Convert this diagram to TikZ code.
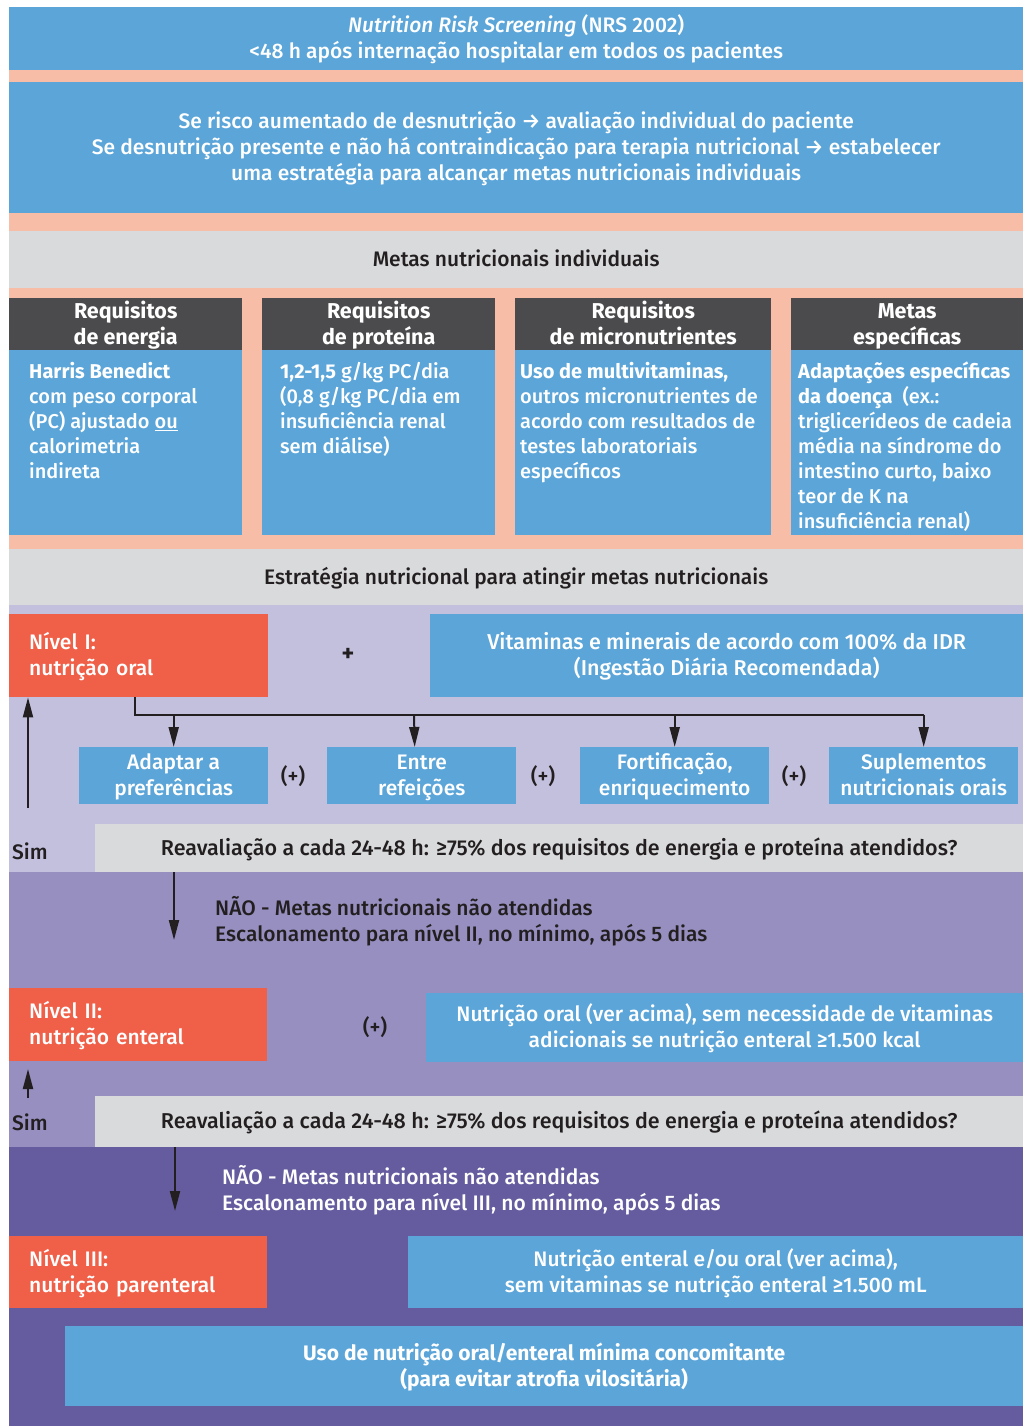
\documentclass[tikz,border=0pt]{standalone}
\usepackage{fontspec}
\setmainfont{Fira Sans}[UprightFont={* Medium}, ItalicFont={* Medium Italic}, BoldFont={* Bold}]
\usetikzlibrary{arrows.meta}
\definecolor{blueC}{HTML}{5BA5D9}
\definecolor{peachC}{HTML}{F8BDA7}
\definecolor{grayC}{HTML}{D9DADC}
\definecolor{darkC}{HTML}{4B4B4D}
\definecolor{redC}{HTML}{F05F48}
\definecolor{lavA}{HTML}{C3C0DE}
\definecolor{lavB}{HTML}{968FC0}
\definecolor{lavC}{HTML}{645C9E}
\definecolor{txtC}{HTML}{231F20}
\newcommand\ms{\rule[-5.5pt]{0pt}{25.5pt}}
\begin{document}
\begin{tikzpicture}[x=1pt,y=-1pt,
  fnt/.style={font=\fontsize{21}{26}\selectfont},
  box/.style={fill=#1, draw=none, inner sep=0pt, anchor=north west, align=center, text=white, fnt},
  lbox/.style={fill=#1, draw=none, inner xsep=20pt, inner ysep=0pt, anchor=north west, align=left, text=white, fnt},
  hbox/.style={fill=darkC, draw=none, inner sep=0pt, anchor=north west, align=center, text=white, font=\bfseries\fontsize{21.5}{25}\selectfont},
  body/.style={anchor=north west, inner sep=0pt, align=left, text=white, font=\fontsize{20}{25}\selectfont},
  dtxt/.style={text=txtC, inner sep=0pt, fnt},
  arr/.style={-{Triangle[length=20pt,width=10pt]}, line width=2pt, draw=txtC},
  ln/.style={line width=2pt, draw=txtC}]
\useasboundingbox (0,0) rectangle (1023,1426);
\fill[white] (0,0) rectangle (1023,1426);
% backgrounds
\fill[peachC] (9,70) rectangle (1023,549);
\fill[lavA] (9,605) rectangle (1023,872);
\fill[lavB] (9,872) rectangle (1023,1147);
\fill[lavC] (9,1147) rectangle (1023,1426);
% top
\node[box=blueC, minimum width=1014pt, minimum height=63pt] (nrs) at (9,7)
  {\ms\textit{Nutrition Risk Screening} (NRS 2002)\\ <48 h após internação hospitalar em todos os pacientes\ms};
\node[box=blueC, minimum width=1014pt, minimum height=131pt] (se) at (9,82)
  {\ms Se risco aumentado de desnutrição → avaliação individual do paciente\\
   Se desnutrição presente e não há contraindicação para terapia nutricional → estabelecer\\
   uma estratégia para alcançar metas nutricionais individuais\ms};
\node[box=grayC, text=txtC, minimum width=1014pt, minimum height=57pt] (metas) at (9,231)
  {\ms Metas nutricionais individuais};
% columns
\node[hbox, minimum width=233pt, minimum height=52pt] (h1) at (9,298) {\ms Requisitos\\ de energia\ms};
\node[hbox, minimum width=233pt, minimum height=52pt] (h2) at (262,298) {\ms Requisitos\\ de proteína\ms};
\node[hbox, minimum width=256pt, minimum height=52pt] (h3) at (515,298) {\ms Requisitos\\ de micronutrientes\ms};
\node[hbox, minimum width=232pt, minimum height=52pt] (h4) at (791,298) {\ms Metas\\ específicas\ms};
\node[box=blueC, minimum width=233pt, minimum height=185pt] (b1) at (9,350) {};
\node[box=blueC, minimum width=233pt, minimum height=185pt] (b2) at (262,350) {};
\node[box=blueC, minimum width=256pt, minimum height=185pt] (b3) at (515,350) {};
\node[box=blueC, minimum width=232pt, minimum height=185pt] (b4) at (791,350) {};
\node[body] (t1) at (29,362) {\textbf{Harris Benedict}\\ com peso corporal\\ (PC) ajustado \underline{ou}\\ calorimetria\\ indireta};
\node[body] (t2) at (280,362) {\textbf{1,2-1,5} g/kg PC/dia\\ (0,8 g/kg PC/dia em\\ insuficiência renal\\ sem diálise)};
\node[body] (t3) at (520,362) {\textbf{Uso de multivitaminas,}\\ outros micronutrientes de\\ acordo com resultados de\\ testes laboratoriais\\ específicos};
\node[body] (t4) at (798,362) {\textbf{Adaptações específicas}\\ \textbf{da doença}\ \ (ex.:\\ triglicerídeos de cadeia\\ média na síndrome do\\ intestino curto, baixo\\ teor de K na\\ insuficiência renal)};
\node[box=grayC, text=txtC, minimum width=1014pt, minimum height=56pt] (estr) at (9,549)
  {\ms Estratégia nutricional para atingir metas nutricionais};
% level I
\node[lbox=redC, text width=219pt, minimum height=83pt] (n1) at (9,614) {\ms Nível I:\\ nutrição oral\ms};
\node[dtxt, font=\bfseries\fontsize{24}{26}\selectfont] (plus1) at (348,655) {+};
\node[box=blueC, minimum width=593pt, minimum height=83pt, font=\fontsize{21.5}{26}\selectfont] (vit) at (430,614)
  {\ms Vitaminas e minerais de acordo com 100\% da IDR\\ (Ingestão Diária Recomendada)\ms};
\node[box=blueC, minimum width=189pt, minimum height=57pt] (s1) at (79,747) {\ms Adaptar a\\ preferências\ms};
\node[box=blueC, minimum width=189pt, minimum height=57pt] (s2) at (327,747) {\ms Entre\\ refeições\ms};
\node[box=blueC, minimum width=189pt, minimum height=57pt] (s3) at (580,747) {\ms Fortificação,\\ enriquecimento\ms};
\node[box=blueC, minimum width=189pt, minimum height=57pt] (s4) at (829,747) {\ms Suplementos\\ nutricionais orais\ms};
\node[dtxt] (p1) at (293,776) {(+)};
\node[dtxt] (p2) at (543,776) {(+)};
\node[dtxt] (p3) at (794,776) {(+)};
\coordinate (br) at (135,715);
\draw[ln] (n1.south -| br) -- (br) -- (br -| s4.north);
\draw[arr] (br -| s1.north) -- (s1.north);
\draw[arr] (br -| 414,0) -- ([xshift=-7pt]s2.north);
\draw[arr] (br -| s3.north) -- (s3.north);
\draw[arr] (br -| s4.north) -- (s4.north);
\node[box=grayC, text=txtC, minimum width=928pt, minimum height=48pt, font=\fontsize{21.5}{26}\selectfont] (rev1) at (95,824)
  {\ms Reavaliação a cada 24-48 h: ≥75\% dos requisitos de energia e proteína atendidos?};
\node[dtxt, anchor=west] (sim1) at (12,851) {Sim};
\coordinate (u1) at (28,808);
\draw[arr] (u1) -- (u1 |- n1.south);
% level II
\coordinate (d1) at (174,940);
\draw[arr] (rev1.south -| d1) -- (d1);
\node[dtxt, anchor=west, align=left] (nao1) at (215,921)
  {\ms NÃO - Metas nutricionais não atendidas\\ Escalonamento para nível II, no mínimo, após 5 dias\ms};
\node[lbox=redC, text width=218pt, minimum height=73pt] (n2) at (9,988) {\ms Nível II:\\ nutrição enteral\ms};
\node[dtxt] (p4) at (375,1027) {(+)};
\node[box=blueC, minimum width=597pt, minimum height=69pt] (oral2) at (426,993)
  {\ms Nutrição oral (ver acima), sem necessidade de vitaminas\\ adicionais se nutrição enteral ≥1.500 kcal\ms};
\node[box=grayC, text=txtC, minimum width=928pt, minimum height=51pt, font=\fontsize{21.5}{26}\selectfont] (rev2) at (95,1096)
  {\ms Reavaliação a cada 24-48 h: ≥75\% dos requisitos de energia e proteína atendidos?};
\node[dtxt, anchor=west] (sim2) at (12,1122) {Sim};
\coordinate (u2) at (28,1098);
\coordinate (u2t) at (28,1069);
\draw[arr] (u2) -- (u2t);
% level III
\coordinate (d2) at (175,1211);
\draw[arr] (rev2.south -| d2) -- (d2);
\node[dtxt, text=white, anchor=west, align=left] (nao2) at (222,1190)
  {\ms NÃO - Metas nutricionais não atendidas\\ Escalonamento para nível III, no mínimo, após 5 dias\ms};
\node[lbox=redC, text width=218pt, minimum height=72pt] (n3) at (9,1236) {\ms Nível III:\\ nutrição parenteral\ms};
\node[box=blueC, minimum width=615pt, minimum height=72pt] (ent3) at (408,1236)
  {\ms Nutrição enteral e/ou oral (ver acima),\\ sem vitaminas se nutrição enteral ≥1.500 mL\ms};
\node[box=blueC, minimum width=958pt, minimum height=80pt, font=\bfseries\fontsize{21}{26}\selectfont] (uso) at (65,1326)
  {\ms Uso de nutrição oral/enteral mínima concomitante\\ (para evitar atrofia vilositária)\ms};
\end{tikzpicture}
\end{document}
